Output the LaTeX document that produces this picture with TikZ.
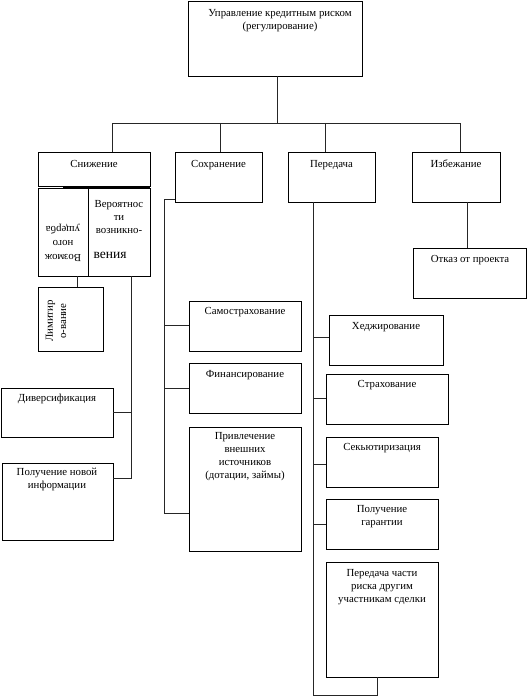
\documentclass[tikz,border=0pt]{standalone}
\usepackage{fontspec}
\setmainfont{Liberation Serif}
\begin{document}
\begin{tikzpicture}[x=1pt,y=-1pt,
  box/.style={draw=black,line width=0.8pt,rectangle,inner sep=0pt,outer sep=0pt},
  lbl/.style={anchor=north,align=center,inner sep=0pt,font=\fontsize{10.8}{13.2}\selectfont},
  conn/.style={draw=black!85,line width=0.9pt}]
\useasboundingbox (0,0) rectangle (527,700);
\newcommand{\mybox}[5]{\node[box,minimum width={#4-#2},minimum height={#5-#3}] (#1) at ({(#2+#4)/2},{(#3+#5)/2}) {};}
\mybox{top}{188}{1}{362}{76}
\node[lbl] (ttop) at (280,9) {Управление кредитным риском\\(регулирование)};
\mybox{sn}{38}{152}{150}{186}
\node[lbl] (tsn) at (94,160) {Снижение};
\mybox{lc}{38}{188}{88}{276}
\mybox{rc}{88}{188}{150}{276}
\draw[line width=2pt] (63,187) -- (150,187);
\node[lbl,anchor=center,rotate=180,font=\fontsize{10.8}{14}\selectfont] (tlc) at (63,243) {Возмож\\ного\\ущерба};
\node[lbl] (trc) at (119,200) {Вероятнос\\ти\\возникно-};
\node[lbl,anchor=center,font=\fontsize{13.5}{14}\selectfont] (trc2) at (110,255) {вения};
\mybox{lim}{38}{287}{103}{351}
\node[lbl,anchor=center,rotate=90] (tlim) at (56,321) {Лимитир\\о-вание};
\mybox{div}{1}{388}{113}{437}
\node[lbl] (tdiv) at (57,394) {Диверсификация};
\mybox{inf}{2}{463}{113}{540}
\node[lbl] (tinf) at (57,468) {Получение новой\\информации};
\mybox{so}{175}{152}{262}{202}
\node[lbl] (tso) at (218.5,160) {Сохранение};
\mybox{ss}{189}{301}{301}{351}
\node[lbl] (tss) at (245,307) {Самострахование};
\mybox{fi}{189}{363}{301}{413}
\node[lbl] (tfi) at (245,370) {Финансирование};
\mybox{pr}{189}{427}{301}{551}
\node[lbl] (tpr) at (245,432) {Привлечение\\внешних\\источников\\(дотации, займы)};
\mybox{pe}{288}{152}{375}{202}
\node[lbl] (tpe) at (331.5,160) {Передача};
\mybox{he}{329}{315}{443}{365}
\node[lbl] (the) at (386,322) {Хеджирование};
\mybox{st}{326}{374}{448}{424}
\node[lbl] (tst) at (387,380) {Страхование};
\mybox{se}{326}{437}{438}{487}
\node[lbl] (tse) at (382,443) {Секьютиризация};
\mybox{ga}{326}{499}{438}{549}
\node[lbl] (tga) at (382,505) {Получение\\гарантии};
\mybox{pc}{326}{562}{438}{677}
\node[lbl] (tpc) at (382,569) {Передача части\\риска другим\\участникам сделки};
\mybox{iz}{412}{152}{500}{202}
\node[lbl] (tiz) at (456,160) {Избежание};
\mybox{ot}{413}{248}{526.5}{298}
\node[lbl] (tot) at (470,255) {Отказ от проекта};
% connectors
\coordinate (hub) at (277,123);
\draw[conn] (top.south -| hub) -- (hub);
\draw[conn] (sn.north -| 112,0) -- (112,123) -- (460,123) -- (iz.north -| 460,0);
\draw[conn] (220,123) -- (so.north -| 220,0);
\draw[conn] (325,123) -- (pe.north -| 325,0);
\draw[conn] (lc.south -| 77,0) -- (lim.north -| 77,0);
\draw[conn] (rc.south -| 131,0) -- (131,478) -- (inf.east |- 0,478);
\draw[conn] (131,412) -- (div.east |- 0,412);
\draw[conn] (so.west |- 0,199) -- (164,199) -- (164,513) -- (pr.west |- 0,513);
\draw[conn] (164,325) -- (ss.west |- 0,325);
\draw[conn] (164,388) -- (fi.west |- 0,388);
\draw[conn] (pe.south -| 313,0) -- (313,695) -- (377,695) -- (pc.south -| 377,0);
\draw[conn] (313,337) -- (he.west |- 0,337);
\draw[conn] (313,398) -- (st.west |- 0,398);
\draw[conn] (313,464) -- (se.west |- 0,464);
\draw[conn] (313,524) -- (ga.west |- 0,524);
\draw[conn] (iz.south -| 467,0) -- (ot.north -| 467,0);
\end{tikzpicture}
\end{document}
